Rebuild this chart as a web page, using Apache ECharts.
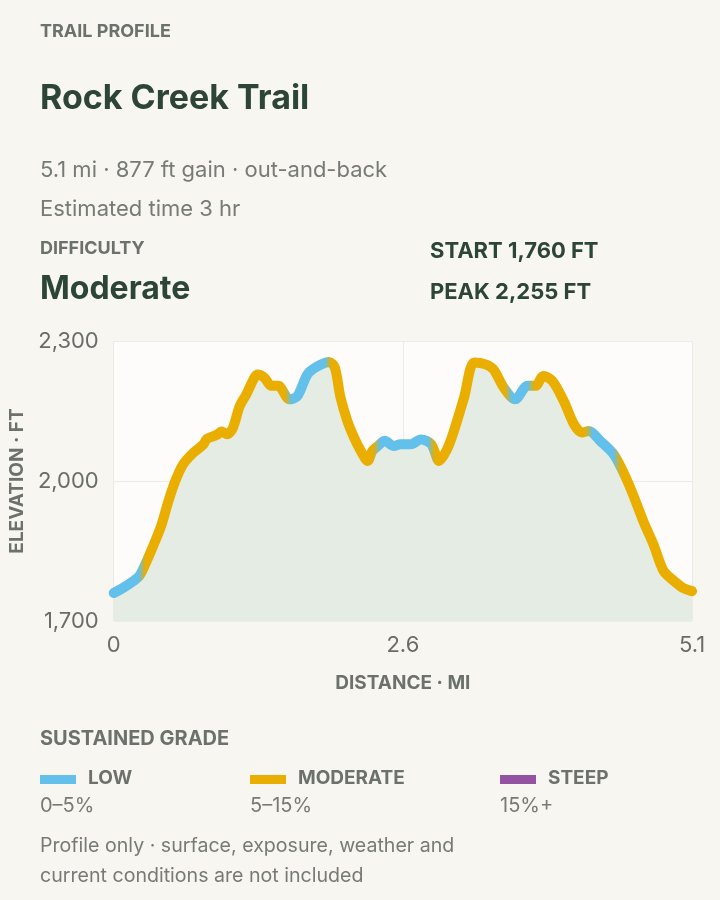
<!DOCTYPE html>
<html>
<head>
<meta charset="utf-8">
<script src="https://cdn.jsdelivr.net/npm/echarts@6/dist/echarts.min.js"></script>
<style>
  html, body { margin: 0; padding: 0; background: #f7f6f1; }
  #chart { width: 720px; height: 900px; }
</style>
</head>
<body>
<div id="chart"></div>
<script>
// ---- Data ----
const distanceMi = [0.00, 0.09, 0.17, 0.23, 0.29, 0.35, 0.42, 0.48, 0.54, 0.61, 0.70, 0.79, 0.82, 0.91, 0.95, 1.00, 1.05, 1.11, 1.17, 1.24, 1.27, 1.33, 1.39, 1.45, 1.55, 1.62, 1.71, 1.80, 1.90, 1.95, 2.00, 2.06, 2.12, 2.18, 2.24, 2.28, 2.33, 2.39, 2.47, 2.53, 2.62, 2.71, 2.80, 2.87, 2.94, 3.00, 3.09, 3.18, 3.28, 3.35, 3.44, 3.54, 3.65, 3.72, 3.79, 3.87, 3.97, 4.06, 4.13, 4.19, 4.29, 4.41, 4.49, 4.58, 4.67, 4.76, 4.85, 4.94, 5.02, 5.10];
const elevationFt = [1760, 1772, 1785, 1798, 1828, 1862, 1905, 1955, 1998, 2035, 2060, 2078, 2090, 2099, 2106, 2100, 2113, 2160, 2186, 2221, 2228, 2221, 2204, 2204, 2175, 2182, 2229, 2246, 2255, 2243, 2179, 2129, 2093, 2064, 2043, 2064, 2075, 2086, 2075, 2079, 2079, 2089, 2079, 2043, 2068, 2107, 2179, 2254, 2250, 2239, 2200, 2175, 2204, 2204, 2225, 2214, 2171, 2121, 2104, 2107, 2086, 2057, 2021, 1971, 1914, 1864, 1807, 1786, 1771, 1764];
// distance ranges (mi) where the sustained grade is LOW; everything else is MODERATE
const lowGradeRanges = [[0, 0.25], [1.54, 1.89], [2.32, 2.80], [3.48, 3.68], [4.19, 4.44]];
const yTicks = [1700, 2000, 2300];
const xTickLabels = ['0', '2.6', '5.1'];
const xMax = 5.1;
const gradeNames = ['LOW', 'MODERATE', 'STEEP'];
const gradeRangesText = ['0–5%', '5–15%', '15%+'];

// ---- Styles ----
const FONT = 'Inter, "Noto Sans", sans-serif';
const C_LOW = '#62c0ea', C_MOD = '#e9ae00', C_STEEP = '#9353a2';
const gradeColors = [C_LOW, C_MOD, C_STEEP];
const DARK = '#2c4537', GRAY = '#6d716b', LIGHT = '#787b75';

function mix(c1, c2, t) {
  const a = echarts.color.parse(c1), b = echarts.color.parse(c2);
  return 'rgb(' + [0, 1, 2].map(k => Math.round(a[k] + (b[k] - a[k]) * t)).join(',') + ')';
}
// visualMap pieces along distance, with short blended transitions at boundaries
const BLEND = 0.06, STEPS = 4;
const bounds = [];
lowGradeRanges.forEach(([a, b]) => { bounds.push([a, 'toLow']); bounds.push([b, 'toMod']); });
const pieces = [];
let cursor = -0.05, curColor = C_MOD;
bounds.forEach(([pos, kind]) => {
  const from = kind === 'toLow' ? C_MOD : C_LOW;
  const to = kind === 'toLow' ? C_LOW : C_MOD;
  if (pos <= 0) { curColor = to; return; }
  const s = Math.max(cursor, pos - BLEND / 2);
  if (s > cursor) pieces.push({ gte: cursor, lt: s, color: from });
  const e = pos + BLEND / 2, step = (e - s) / STEPS;
  for (let k = 0; k < STEPS; k++) {
    pieces.push({ gte: s + k * step, lt: s + (k + 1) * step, color: mix(from, to, (k + 0.5) / STEPS) });
  }
  cursor = e; curColor = to;
});
if (cursor < xMax + 0.05) pieces.push({ gte: cursor, lte: xMax + 0.05, color: curColor });

const seriesData = distanceMi.map((d, i) => [d, elevationFt[i]]);

function txt(x, y, text, size, weight, color) {
  return {
    type: 'text', x: x, y: y,
    style: { text: text, font: weight + ' ' + size + 'px ' + FONT, fill: color, verticalAlign: 'middle', align: 'left' }
  };
}

const graphics = [
  txt(40, 32, 'TRAIL PROFILE', 18, 'bold', GRAY),
  txt(40, 99, 'Rock Creek Trail', 34, 'bold', DARK),
  txt(40, 170, '5.1 mi · 877 ft gain · out-and-back', 22, 'normal', LIGHT),
  txt(40, 209, 'Estimated time 3 hr', 22, 'normal', LIGHT),
  txt(40, 249, 'DIFFICULTY', 18, 'bold', GRAY),
  txt(40, 289, 'Moderate', 32, 'bold', DARK),
  txt(430, 251, 'START 1,760 FT', 22, 'bold', DARK),
  txt(430, 292, 'PEAK 2,255 FT', 22, 'bold', DARK),
  txt(40, 739, 'SUSTAINED GRADE', 20, 'bold', GRAY),
  txt(40, 846, 'Profile only · surface, exposure, weather and', 19.6, 'normal', LIGHT),
  txt(40, 876, 'current conditions are not included', 19.6, 'normal', LIGHT)
];
const legendX = [40, 250, 500];
gradeNames.forEach((n, i) => {
  graphics.push({ type: 'rect', x: legendX[i], y: 775, shape: { width: 36, height: 9 }, style: { fill: gradeColors[i] } });
  graphics.push(txt(legendX[i] + 48, 778, n, 19, 'bold', GRAY));
  graphics.push(txt(legendX[i], 806, gradeRangesText[i], 20, 'normal', LIGHT));
});

const chart = echarts.init(document.getElementById('chart'), null, { renderer: 'canvas' });
chart.setOption({
  backgroundColor: '#f7f6f1',
  animation: false,
  textStyle: { fontFamily: FONT },
  grid: {
    left: 112, right: 28, top: 341, bottom: 279,
    show: true, backgroundColor: '#fdfcfa', borderWidth: 0
  },
  xAxis: {
    type: 'value', min: 0, max: xMax, interval: xMax / 2,
    name: 'DISTANCE · MI', nameLocation: 'middle', nameGap: 53,
    nameTextStyle: { fontSize: 19, fontWeight: 'bold', color: GRAY, fontFamily: FONT },
    axisLine: { show: false }, axisTick: { show: false },
    axisLabel: { fontSize: 22, color: '#6a6d67', margin: 13, fontFamily: FONT,
      formatter: (v, i) => xTickLabels[i] },
    splitLine: { show: true, lineStyle: { color: '#ecebe6', width: 1 } }
  },
  yAxis: {
    type: 'value', min: yTicks[0], max: yTicks[yTicks.length - 1], interval: yTicks[1] - yTicks[0],
    name: 'ELEVATION · FT', nameLocation: 'middle', nameGap: 82, nameRotate: 90,
    nameTextStyle: { fontSize: 19, fontWeight: 'bold', color: GRAY, fontFamily: FONT },
    axisLine: { show: false }, axisTick: { show: false },
    axisLabel: { fontSize: 22, color: '#6a6d67', margin: 15, fontFamily: FONT,
      formatter: v => v.toLocaleString('en-US') },
    splitLine: { show: true, lineStyle: { color: '#ecebe6', width: 1 } }
  },
  visualMap: {
    type: 'piecewise', show: false, dimension: 0, seriesIndex: 0,
    pieces: pieces
  },
  series: [{
    type: 'line',
    data: seriesData,
    smooth: 0.3,
    symbol: 'none',
    clip: false,
    lineStyle: { width: 10, cap: 'round', join: 'round' },
    areaStyle: { color: '#e4ece3', opacity: 1 }
  }],
  graphic: graphics
});
</script>
</body>
</html>
